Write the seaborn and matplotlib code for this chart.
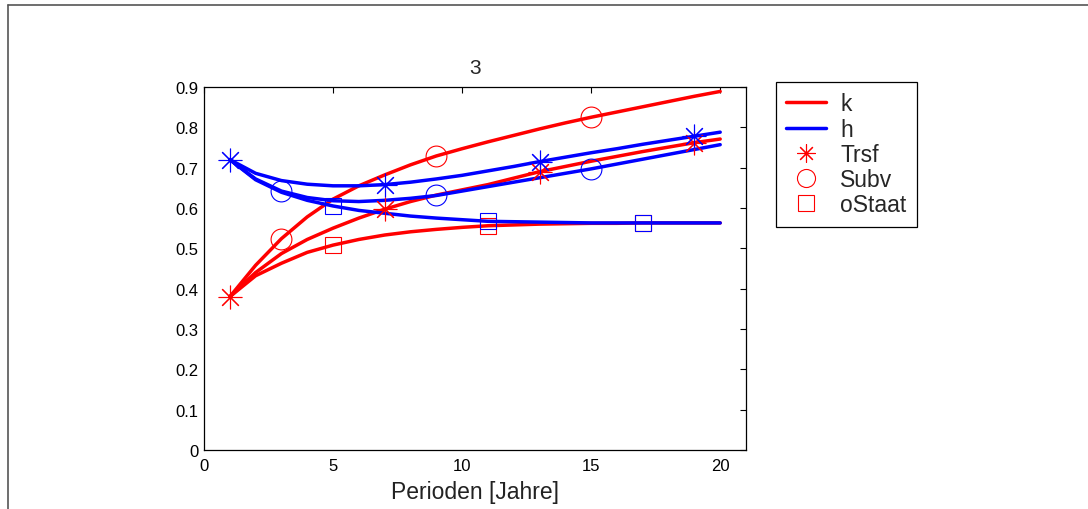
import numpy as np
import pandas as pd
import matplotlib
matplotlib.use("Agg")
import matplotlib.pyplot as plt
from matplotlib.lines import Line2D
import seaborn as sns

# ---- data ----
periods = list(range(1, 21))
k_trsf = [0.380, 0.440, 0.487, 0.522, 0.550, 0.575, 0.597, 0.616, 0.632, 0.645,
          0.658, 0.674, 0.690, 0.703, 0.716, 0.728, 0.740, 0.751, 0.762, 0.771]
k_subv = [0.380, 0.458, 0.524, 0.578, 0.622, 0.655, 0.682, 0.707, 0.729, 0.747,
          0.764, 0.780, 0.796, 0.811, 0.825, 0.838, 0.851, 0.864, 0.877, 0.889]
k_ostaat = [0.380, 0.432, 0.463, 0.490, 0.508, 0.522, 0.533, 0.541, 0.547, 0.552,
            0.556, 0.558, 0.560, 0.561, 0.562, 0.562, 0.563, 0.563, 0.563, 0.563]
h_trsf = [0.720, 0.686, 0.668, 0.659, 0.655, 0.655, 0.658, 0.664, 0.672, 0.681,
          0.692, 0.703, 0.715, 0.726, 0.737, 0.747, 0.758, 0.768, 0.778, 0.788]
h_subv = [0.720, 0.672, 0.642, 0.626, 0.618, 0.616, 0.619, 0.624, 0.631, 0.642,
          0.653, 0.664, 0.675, 0.686, 0.697, 0.709, 0.721, 0.733, 0.745, 0.757]
h_ostaat = [0.720, 0.670, 0.639, 0.619, 0.605, 0.594, 0.587, 0.580, 0.575, 0.571,
            0.567, 0.566, 0.565, 0.564, 0.563, 0.563, 0.563, 0.563, 0.563, 0.563]
marker_periods = {"Trsf": [1, 7, 13, 19], "Subv": [3, 9, 15], "oStaat": [5, 11, 17]}
legend_labels = ["k", "h", "Trsf", "Subv", "oStaat"]
x_ticks = [0, 5, 10, 15, 20]
y_ticks = [0, 0.1, 0.2, 0.3, 0.4, 0.5, 0.6, 0.7, 0.8, 0.9]
y_tick_labels = ["0", "0.1", "0.2", "0.3", "0.4", "0.5", "0.6", "0.7", "0.8", "0.9"]

sns.set_style("white")
plt.rcParams["font.family"] = ["Liberation Sans", "DejaVu Sans"]

fig = plt.figure(figsize=(10.88, 5.10), dpi=100)
ax = fig.add_axes([204 / 1088, 59 / 510, 542 / 1088, 363 / 510])

RED = "#ff0000"
BLUE = "#0000ff"
series = {
    ("k", "Trsf"): k_trsf, ("k", "Subv"): k_subv, ("k", "oStaat"): k_ostaat,
    ("h", "Trsf"): h_trsf, ("h", "Subv"): h_subv, ("h", "oStaat"): h_ostaat,
}
markers = {"Trsf": (8, 2, 0), "Subv": "o", "oStaat": "s"}
msizes = {"Trsf": 17, "Subv": 15, "oStaat": 12}

for (var, pol), vals in series.items():
    col = RED if var == "k" else BLUE
    df = pd.DataFrame({"t": periods, "v": vals})
    sns.lineplot(data=df, x="t", y="v", ax=ax, color=col, linewidth=2.5,
                 legend=False, zorder=2)

for (var, pol), vals in series.items():
    col = RED if var == "k" else BLUE
    mp = marker_periods[pol]
    mv = [vals[periods.index(p)] for p in mp]
    ax.plot(mp, mv, linestyle="none", marker=markers[pol], markersize=msizes[pol],
            markerfacecolor="none", markeredgecolor=col, markeredgewidth=0.8, zorder=3)

ax.set_xlim(0, 21)
ax.set_ylim(0, 0.9)
ax.set_xticks(x_ticks)
ax.set_xticklabels([str(t) for t in x_ticks])
ax.set_yticks(y_ticks)
ax.set_yticklabels(y_tick_labels)
ax.tick_params(direction="in", length=4, width=0.8, top=True, right=True,
               labelsize=12, colors="black", pad=4)
ax.tick_params(axis="x", pad=6)
for sp in ax.spines.values():
    sp.set_visible(True)
    sp.set_color("black")
    sp.set_linewidth(0.9)
ax.set_xlabel("Perioden [Jahre]", fontsize=16.5, labelpad=5, color="#222222")
ax.set_ylabel("")
ax.set_title("3", fontsize=15, pad=10)

handles = [
    Line2D([], [], color=RED, linewidth=2.5),
    Line2D([], [], color=BLUE, linewidth=2.5),
    Line2D([], [], color=RED, linestyle="none", marker=(8, 2, 0), markersize=13,
           markeredgewidth=0.8),
    Line2D([], [], color=RED, linestyle="none", marker="o", markersize=13,
           markerfacecolor="none", markeredgewidth=0.8),
    Line2D([], [], color=RED, linestyle="none", marker="s", markersize=11,
           markerfacecolor="none", markeredgewidth=0.8),
]
leg = fig.legend(handles, legend_labels, loc="upper left",
                 bbox_to_anchor=(776 / 1088, 1 - 83 / 510), fontsize=16.5,
                 frameon=True, fancybox=False, framealpha=1, edgecolor="black",
                 handlelength=1.75, labelspacing=0.1, borderpad=0.45,
                 handletextpad=0.6, borderaxespad=0)
leg.get_frame().set_linewidth(0.9)

# outer figure frame (top and left edges)
fig.add_artist(Line2D([8 / 1088, 8 / 1088], [0, 1 - 6 / 510], transform=fig.transFigure,
                      color="#555555", linewidth=1.2))
fig.add_artist(Line2D([8 / 1088, 1], [1 - 6 / 510, 1 - 6 / 510], transform=fig.transFigure,
                      color="#555555", linewidth=1.2))

fig.savefig("out.png", dpi=100, facecolor="white")
